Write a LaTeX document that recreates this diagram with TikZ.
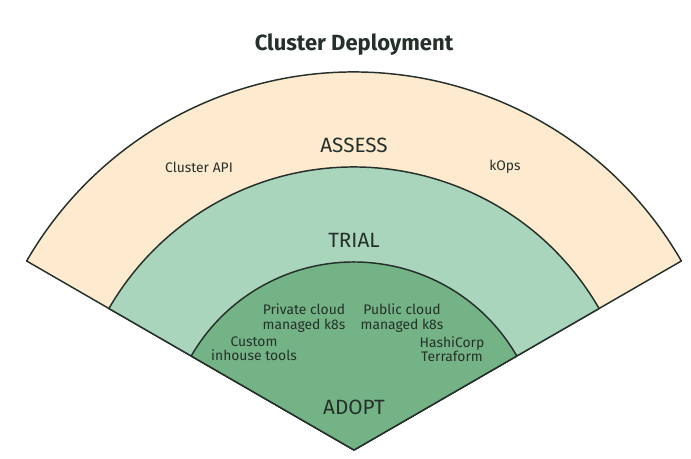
\documentclass[tikz,border=0pt]{standalone}
\usepackage{fontspec}
\setmainfont{Fira Sans}
\usetikzlibrary{positioning}

\definecolor{assesscol}{HTML}{FEEBCF}
\definecolor{trialcol}{HTML}{AAD5BD}
\definecolor{adoptcol}{HTML}{74B385}
\definecolor{inkcol}{HTML}{25302A}

\begin{document}
\begin{tikzpicture}[x=0.75pt,y=0.75pt,
		ring/.style={draw=inkcol,line width=1.1pt,line join=round},
		ringname/.style={text=inkcol,font=\fontsize{15.5}{17}\selectfont},
		tool/.style={text=inkcol,align=center,font=\fontsize{10.4}{10.6}\selectfont}]
			\useasboundingbox (-354,-8) rectangle (337,450);
			% rings, outside first
			\filldraw[ring,fill=assesscol] (0,0) -- (30:378) arc[start angle=30,end angle=150,radius=378] -- cycle;
			\filldraw[ring,fill=trialcol] (0,0) -- (30:283) arc[start angle=30,end angle=150,radius=283] -- cycle;
			\filldraw[ring,fill=adoptcol] (0,0) -- (30:188) arc[start angle=30,end angle=150,radius=188] -- cycle;
			% labels
			\node[text=inkcol,font=\bfseries\fontsize{16.5}{18}\selectfont] (title) at (0,405) {Cluster Deployment};
			\node[ringname] (assess) at (0,305) {ASSESS};
			\node[ringname] (trial) at (0,210) {TRIAL};
			\node[ringname] (adopt) at (0,43) {ADOPT};
			\node[tool] (capi) at (-155,283) {Cluster API};
			\node[tool] (kops) at (151,283) {kOps};
			\node[tool] (private) at (-50,132) {Private cloud\\managed k8s};
			\node[tool] (public) at (48,132) {Public cloud\\managed k8s};
			\node[tool] (custom) at (-100,101) {Custom\\inhouse tools};
			\node[tool] (terraform) at (98,101) {HashiCorp\\Terraform};
	\end{tikzpicture}
\end{document}
